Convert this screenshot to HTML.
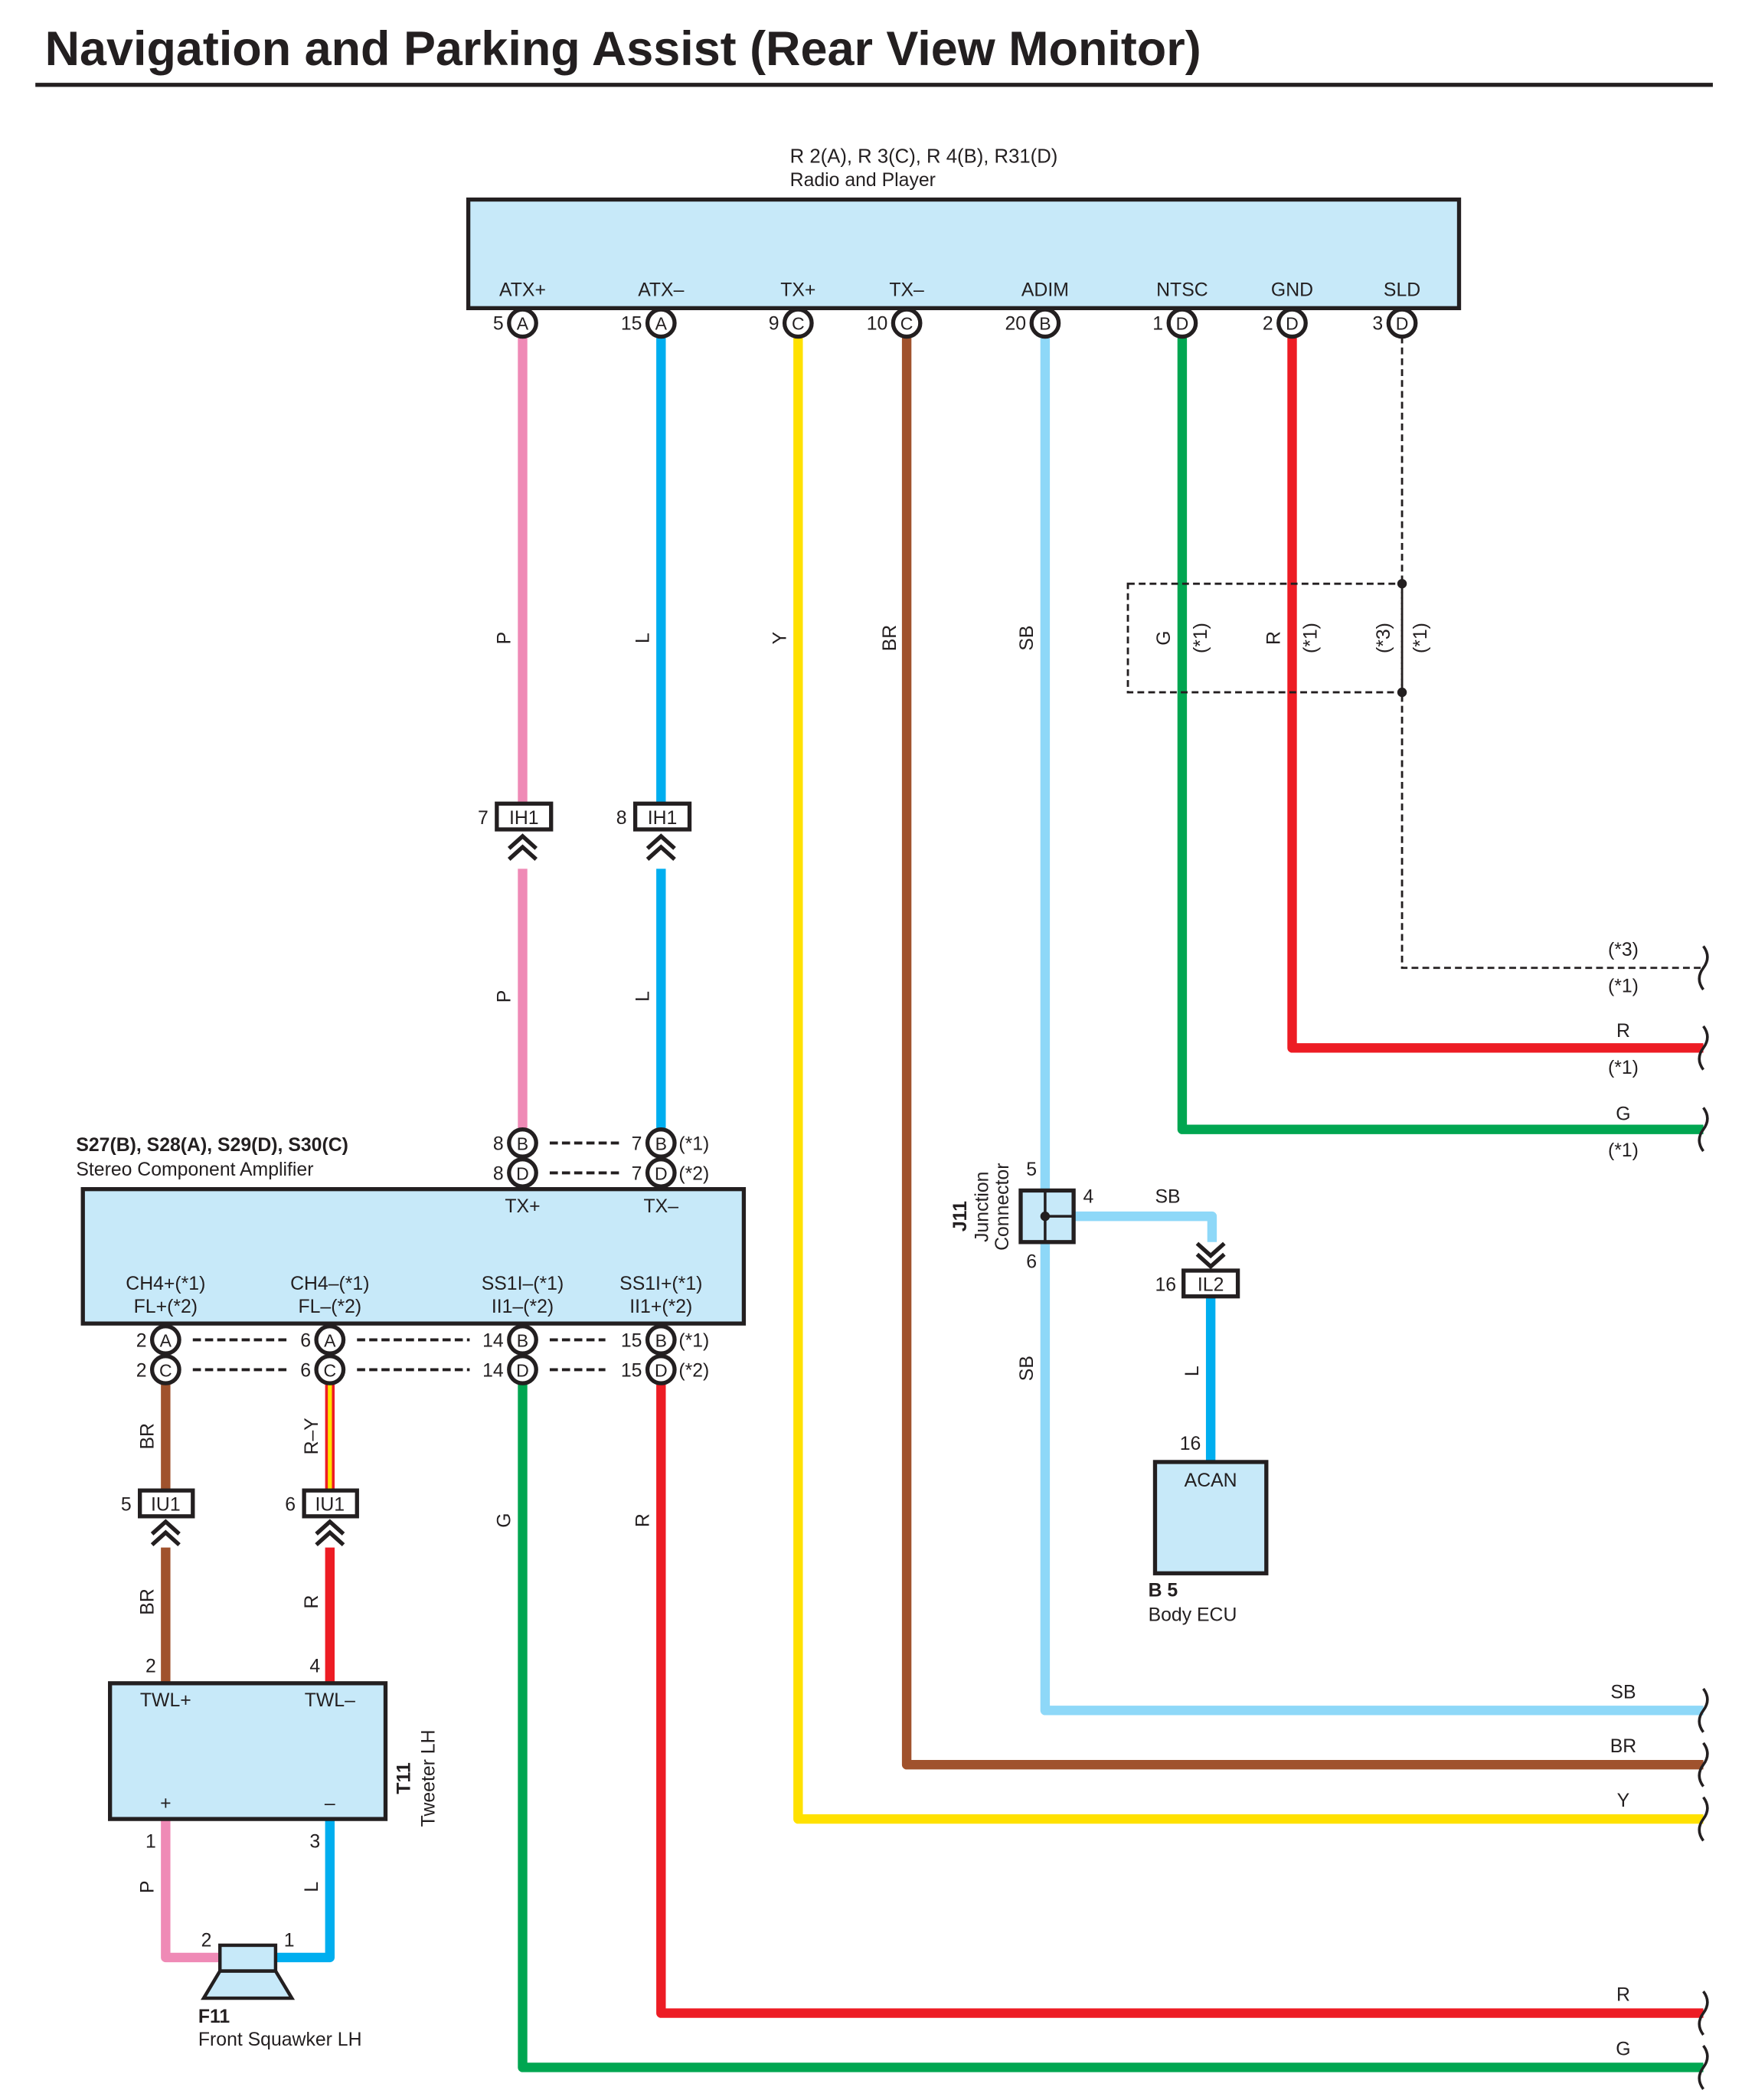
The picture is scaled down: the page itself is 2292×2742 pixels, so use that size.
<!DOCTYPE html>
<html><head><meta charset="utf-8"><style>html,body{margin:0;padding:0;background:#fff}svg{display:block}</style></head>
<body>
<svg width="2292" height="2742" viewBox="0 0 1293 1547" xmlns="http://www.w3.org/2000/svg" font-family="Liberation Sans, sans-serif" font-size="14" fill="#231f20">
<defs>
<g id="chevU"><path d="M-10,8 L0,-1 L10,8 M-10,16 L0,7 L10,16" fill="none" stroke="#231f20" stroke-width="3"/></g>
<g id="chevD"><path d="M-10,-8 L0,1 L10,-8 M-10,-16 L0,-7 L10,-16" fill="none" stroke="#231f20" stroke-width="3"/></g>
</defs>
<text x="33" y="48" font-size="35.5" font-weight="bold" fill="#231f20">Navigation and Parking Assist (Rear View Monitor)</text>
<rect x="26" y="61" width="1236" height="3" fill="#231f20"/>

<!-- wires -->
<g fill="none" stroke-width="7" stroke-linejoin="round">
<path d="M385,248V594 M385,640V832" stroke="#ef8ab6"/>
<path d="M487,248V594 M487,640V832" stroke="#00aeef"/>
<path d="M588,248V1340H1255" stroke="#ffe100"/>
<path d="M668,248V1300H1255" stroke="#a0522d"/>
<path d="M770,248V1260H1255 M791,896H893V915" stroke="#8ed8f8"/>
<path d="M871,248V832H1255" stroke="#00a651"/>
<path d="M952,248V772H1255" stroke="#ed1c24"/>
<path d="M892,955V1077" stroke="#00aeef"/>
<path d="M122,1019V1098 M122,1140V1240" stroke="#a0522d"/>
<path d="M243,1019V1098" stroke="#ed1c24"/>
<path d="M243,1140V1240" stroke="#ed1c24"/>
<path d="M385,1019V1523H1255" stroke="#00a651"/>
<path d="M487,1019V1483H1255" stroke="#ed1c24"/>
<path d="M122,1340V1442H162" stroke="#ef8ab6"/>
<path d="M243,1340V1442H203" stroke="#00aeef"/>
</g>
<rect x="241.5" y="1019" width="3" height="79" fill="#ffe100"/>
<!-- SLD dashed -->
<g fill="none" stroke="#231f20" stroke-width="1.6" stroke-dasharray="5,3">
<path d="M1033,248V713H1255"/>
<rect x="831" y="430" width="202" height="80"/>
</g>
<circle cx="1033" cy="430" r="3.5"/><circle cx="1033" cy="510" r="3.5"/>

<!-- wavy ends -->
<g fill="none" stroke="#231f20" stroke-width="2">
<path d="M1255,697 q6,8 0,16 q-6,8 0,16" />
<path d="M1255,756 q6,8 0,16 q-6,8 0,16" />
<path d="M1255,816 q6,8 0,16 q-6,8 0,16" />
<path d="M1255,1244 q6,8 0,16 q-6,8 0,16" />
<path d="M1255,1284 q6,8 0,16 q-6,8 0,16" />
<path d="M1255,1324 q6,8 0,16 q-6,8 0,16" />
<path d="M1255,1467 q6,8 0,16 q-6,8 0,16" />
<path d="M1255,1507 q6,8 0,16 q-6,8 0,16" />
</g>

<!-- Radio -->
<text x="582" y="120" font-size="14.5">R 2(A), R 3(C), R 4(B), R31(D)</text>
<text x="582" y="137">Radio and Player</text>
<rect x="345" y="147" width="730" height="80" fill="#c7e9f9" stroke="#231f20" stroke-width="3"/>
<g text-anchor="middle">
<text x="385" y="218">ATX+</text><text x="487" y="218">ATX–</text><text x="588" y="218">TX+</text><text x="668" y="218">TX–</text>
<text x="770" y="218">ADIM</text><text x="871" y="218">NTSC</text><text x="952" y="218">GND</text><text x="1033" y="218">SLD</text>
</g>
<g fill="#fff" stroke="#231f20" stroke-width="3">
<circle cx="385" cy="238" r="10"/><circle cx="487" cy="238" r="10"/><circle cx="588" cy="238" r="10"/><circle cx="668" cy="238" r="10"/>
<circle cx="770" cy="238" r="10"/><circle cx="871" cy="238" r="10"/><circle cx="952" cy="238" r="10"/><circle cx="1033" cy="238" r="10"/>
</g>
<g text-anchor="middle" font-size="13">
<text x="385" y="243">A</text><text x="487" y="243">A</text><text x="588" y="243">C</text><text x="668" y="243">C</text>
<text x="770" y="243">B</text><text x="871" y="243">D</text><text x="952" y="243">D</text><text x="1033" y="243">D</text>
</g>
<g text-anchor="end">
<text x="371" y="243">5</text><text x="473" y="243">15</text><text x="574" y="243">9</text><text x="654" y="243">10</text>
<text x="756" y="243">20</text><text x="857" y="243">1</text><text x="938" y="243">2</text><text x="1019" y="243">3</text>
</g>

<!-- rotated wire labels -->
<g text-anchor="middle">
<text transform="translate(376,470) rotate(-90)">P</text>
<text transform="translate(478,470) rotate(-90)">L</text>
<text transform="translate(579,470) rotate(-90)">Y</text>
<text transform="translate(660,470) rotate(-90)">BR</text>
<text transform="translate(761,470) rotate(-90)">SB</text>
<text transform="translate(862,470) rotate(-90)">G</text>
<text transform="translate(889,470) rotate(-90)">(*1)</text>
<text transform="translate(943,470) rotate(-90)">R</text>
<text transform="translate(970,470) rotate(-90)">(*1)</text>
<text transform="translate(1024,470) rotate(-90)">(*3)</text>
<text transform="translate(1051,470) rotate(-90)">(*1)</text>
<text transform="translate(376,734) rotate(-90)">P</text>
<text transform="translate(478,734) rotate(-90)">L</text>
<text transform="translate(761,1008) rotate(-90)">SB</text>
<text transform="translate(883,1010) rotate(-90)">L</text>
<text transform="translate(113,1058) rotate(-90)">BR</text>
<text transform="translate(234,1058) rotate(-90)">R–Y</text>
<text transform="translate(113,1180) rotate(-90)">BR</text>
<text transform="translate(234,1180) rotate(-90)">R</text>
<text transform="translate(376,1120) rotate(-90)">G</text>
<text transform="translate(478,1120) rotate(-90)">R</text>
<text transform="translate(113,1390) rotate(-90)">P</text>
<text transform="translate(234,1390) rotate(-90)">L</text>
</g>

<!-- IH1 -->
<g fill="#fff" stroke="#231f20" stroke-width="3">
<rect x="366" y="592" width="40" height="19"/><rect x="468" y="592" width="40" height="19"/>
<rect x="103" y="1098" width="39" height="19"/><rect x="224" y="1098" width="39" height="19"/>
<rect x="872" y="936" width="40" height="19"/>
</g>
<g text-anchor="middle">
<text x="386" y="607">IH1</text><text x="488" y="607">IH1</text>
<text x="122" y="1113">IU1</text><text x="243" y="1113">IU1</text>
<text x="892" y="951">IL2</text>
</g>
<text x="352" y="607">7</text><text x="454" y="607">8</text>
<text x="89" y="1113">5</text><text x="210" y="1113">6</text>
<text x="851" y="951">16</text>
<use href="#chevU" x="385" y="617"/><use href="#chevU" x="487" y="617"/>
<use href="#chevU" x="122" y="1122"/><use href="#chevU" x="243" y="1122"/>
<use href="#chevD" x="892" y="932"/>

<!-- right labels -->
<g text-anchor="middle">
<text x="1196" y="704">(*3)</text><text x="1196" y="731">(*1)</text>
<text x="1196" y="764">R</text><text x="1196" y="791">(*1)</text>
<text x="1196" y="825">G</text><text x="1196" y="852">(*1)</text>
<text x="1196" y="1251">SB</text><text x="1196" y="1291">BR</text><text x="1196" y="1331">Y</text>
<text x="1196" y="1474">R</text><text x="1196" y="1514">G</text>
</g>

<!-- Amp -->
<text x="56" y="848" font-weight="bold">S27(B), S28(A), S29(D), S30(C)</text>
<text x="56" y="866">Stereo Component Amplifier</text>
<rect x="61" y="876" width="487" height="99" fill="#c7e9f9" stroke="#231f20" stroke-width="3"/>
<g text-anchor="middle">
<text x="385" y="893">TX+</text><text x="487" y="893">TX–</text>
<text x="122" y="950">CH4+(*1)</text><text x="122" y="967">FL+(*2)</text>
<text x="243" y="950">CH4–(*1)</text><text x="243" y="967">FL–(*2)</text>
<text x="385" y="950">SS1I–(*1)</text><text x="385" y="967">II1–(*2)</text>
<text x="487" y="950">SS1I+(*1)</text><text x="487" y="967">II1+(*2)</text>
</g>
<g fill="#fff" stroke="#231f20" stroke-width="3">
<circle cx="385" cy="842" r="10"/><circle cx="487" cy="842" r="10"/><circle cx="385" cy="864" r="10"/><circle cx="487" cy="864" r="10"/>
<circle cx="122" cy="987" r="10"/><circle cx="243" cy="987" r="10"/><circle cx="385" cy="987" r="10"/><circle cx="487" cy="987" r="10"/>
<circle cx="122" cy="1009" r="10"/><circle cx="243" cy="1009" r="10"/><circle cx="385" cy="1009" r="10"/><circle cx="487" cy="1009" r="10"/>
</g>
<g text-anchor="middle" font-size="13">
<text x="385" y="847">B</text><text x="487" y="847">B</text><text x="385" y="869">D</text><text x="487" y="869">D</text>
<text x="122" y="992">A</text><text x="243" y="992">A</text><text x="385" y="992">B</text><text x="487" y="992">B</text>
<text x="122" y="1014">C</text><text x="243" y="1014">C</text><text x="385" y="1014">D</text><text x="487" y="1014">D</text>
</g>
<g text-anchor="end">
<text x="371" y="847">8</text><text x="473" y="847">7</text><text x="371" y="869">8</text><text x="473" y="869">7</text>
<text x="108" y="992">2</text><text x="229" y="992">6</text><text x="371" y="992">14</text><text x="473" y="992">15</text>
<text x="108" y="1014">2</text><text x="229" y="1014">6</text><text x="371" y="1014">14</text><text x="473" y="1014">15</text>
</g>
<text x="500" y="847">(*1)</text><text x="500" y="869">(*2)</text>
<text x="500" y="992">(*1)</text><text x="500" y="1014">(*2)</text>
<g stroke="#231f20" stroke-width="2.2" stroke-dasharray="6,3">
<path d="M405,842H456 M405,864H456"/>
<path d="M142,987H214 M142,1009H214 M263,987H346 M263,1009H346 M405,987H446 M405,1009H446"/>
</g>

<!-- Tweeter -->
<text x="111" y="1232" text-anchor="middle">2</text><text x="232" y="1232" text-anchor="middle">4</text>
<rect x="81" y="1240" width="203" height="100" fill="#c7e9f9" stroke="#231f20" stroke-width="3"/>
<text x="122" y="1257" text-anchor="middle">TWL+</text><text x="243" y="1257" text-anchor="middle">TWL–</text>
<text x="122" y="1333" text-anchor="middle">+</text><text x="243" y="1333" text-anchor="middle">–</text>
<text transform="translate(302,1310) rotate(-90)" text-anchor="middle" font-weight="bold">T11</text>
<text transform="translate(320,1310) rotate(-90)" text-anchor="middle">Tweeter LH</text>
<text x="111" y="1361" text-anchor="middle">1</text><text x="232" y="1361" text-anchor="middle">3</text>
<text x="152" y="1434" text-anchor="middle">2</text><text x="213" y="1434" text-anchor="middle">1</text>
<rect x="162" y="1433" width="41" height="19" fill="#c7e9f9" stroke="#231f20" stroke-width="2.5"/>
<path d="M162,1452H203L215,1472H150Z" fill="#c7e9f9" stroke="#231f20" stroke-width="2.5"/>
<text x="146" y="1490" font-weight="bold">F11</text>
<text x="146" y="1507">Front Squawker LH</text>

<!-- J11 -->
<rect x="752" y="877" width="39" height="38" fill="#c7e9f9" stroke="#231f20" stroke-width="3"/>
<path d="M770,877V915 M770,896H791" stroke="#231f20" stroke-width="2"/>
<circle cx="770" cy="896" r="3.5"/>
<text x="760" y="866" text-anchor="middle">5</text><text x="760" y="934" text-anchor="middle">6</text>
<text x="798" y="886">4</text><text x="851" y="886">SB</text>
<text transform="translate(712,896) rotate(-90)" text-anchor="middle" font-weight="bold">J11</text>
<text transform="translate(728,889) rotate(-90)" text-anchor="middle">Junction</text>
<text transform="translate(743,889) rotate(-90)" text-anchor="middle">Connector</text>

<!-- ACAN -->
<text x="877" y="1068" text-anchor="middle">16</text>
<rect x="851" y="1077" width="82" height="82" fill="#c7e9f9" stroke="#231f20" stroke-width="3"/>
<text x="892" y="1095" text-anchor="middle">ACAN</text>
<text x="846" y="1176" font-weight="bold">B 5</text>
<text x="846" y="1194">Body ECU</text>
</svg>
</body></html>
